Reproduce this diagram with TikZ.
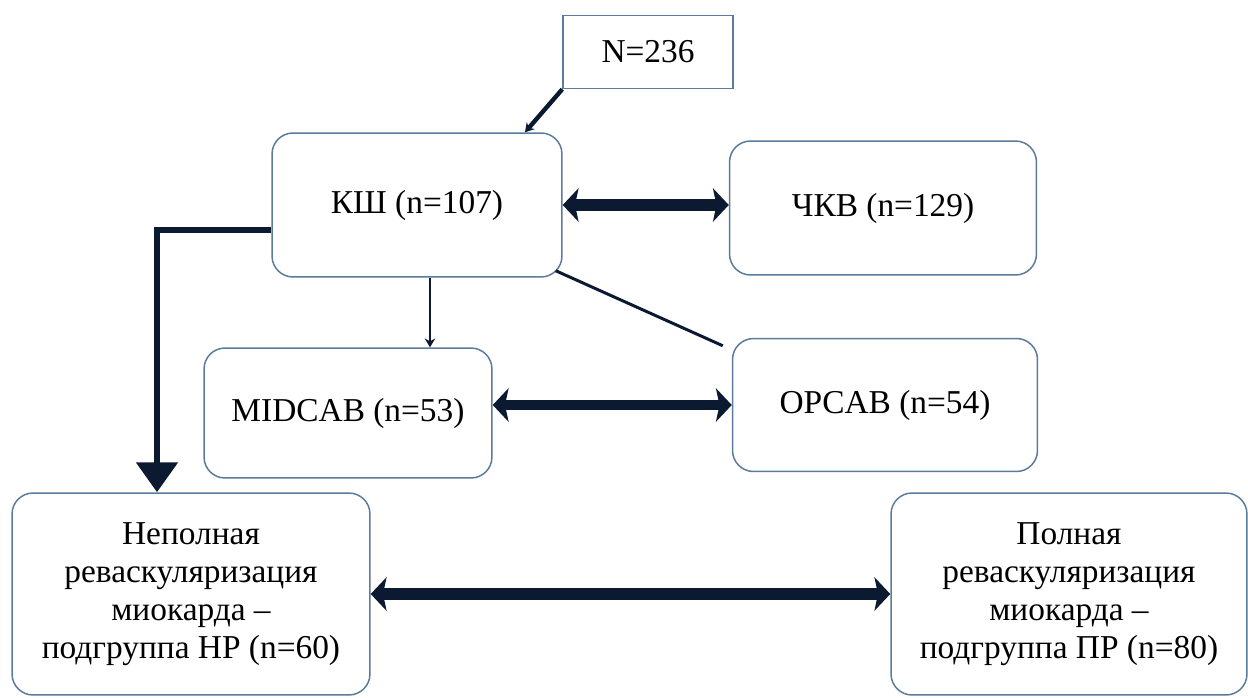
\documentclass[tikz,border=0pt]{standalone}
\usepackage{fontspec}
\setmainfont{Liberation Serif}
\usetikzlibrary{arrows.meta}

\definecolor{boxline}{HTML}{5B7B9B}
\definecolor{arrowink}{HTML}{0B1A30}

\tikzset{
  box/.style={draw=boxline,line width=0.85pt,rounded corners=0.42cm,
    align=center,font=\fontsize{19}{21.6}\selectfont,inner sep=0pt},
  plainbox/.style={box,rounded corners=0pt},
  bothway/.style={draw=arrowink,line width=6.6pt,
    {Stealth[length=9pt,width=19pt,inset=2pt]}-{Stealth[length=9pt,width=19pt,inset=2pt]}},
  thinarrow/.style={draw=arrowink,-{Stealth[length=5pt,width=6pt]}}
}

\begin{document}
\begin{tikzpicture}[x=0.02cm,y=-0.02cm]
\useasboundingbox (0,0) rectangle (1248,697);

\node[plainbox,minimum width=3.4cm,minimum height=1.46cm] (n236) at (648,52) {N=236};
\node[box,minimum width=5.8cm,minimum height=2.88cm] (ksh) at (417,205) {КШ (n=107)};
\node[box,minimum width=6.14cm,minimum height=2.68cm] (chkv) at (883,208) {ЧКВ (n=129)};
\node[box,minimum width=5.76cm,minimum height=2.6cm] (midcab) at (348,413) {MIDCAB (n=53)};
\node[box,minimum width=6.1cm,minimum height=2.66cm] (opcab) at (885,405) {OPCAB (n=54)};
\node[box,minimum width=7.16cm,minimum height=4.04cm] (nepol) at (191,594)
  {Неполная\\реваскуляризация\\миокарда --\\подгруппа НР (n=60)};
\node[box,minimum width=7.12cm,minimum height=4.04cm] (poln) at (1069,594)
  {Полная\\реваскуляризация\\миокарда --\\подгруппа ПР (n=80)};

% arrows from the top
\path[thinarrow,line width=2.5pt] (n236.south west) -- (ksh.north -| 525,0);
\path[thinarrow,line width=1.4pt] (ksh.south -| 430,0) -- (midcab.north -| 430,0);
\path[draw=arrowink,line width=1.7pt] ([shift={(-7,-7)}]ksh.south east) -- ([shift={(-9,8)}]opcab.north west);
\path[draw=arrowink,line width=3.8pt,-{Triangle[length=17pt,width=23pt]}]
  (ksh.west |- 0,230) -| (nepol.north -| 157,0);

% two-way arrows
\path[bothway] (ksh.east) -- (ksh.east -| chkv.west);
\path[bothway,line width=5.4pt] (opcab.west -| midcab.east) -- (opcab.west);
\path[bothway] (nepol.east) -- (poln.west);
\end{tikzpicture}
\end{document}
